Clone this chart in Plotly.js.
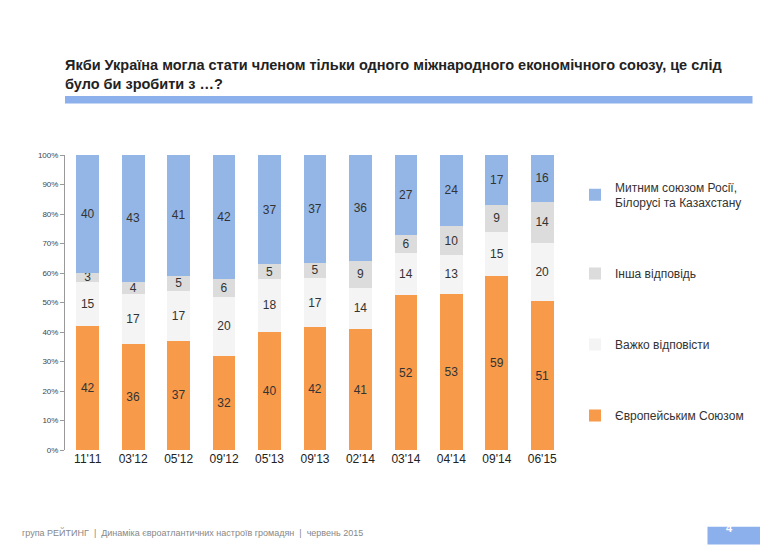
<!DOCTYPE html>
<html><head><meta charset="utf-8">
<script src="https://cdn.plot.ly/plotly-3.0.1.min.js"></script>
<style>body{margin:0;background:#fff}#chart{width:769px;height:545px}</style>
</head><body><div id="chart"></div>
<script>
// підписи хвиль опитування
const waves = ["11'11","03'12","05'12","09'12","05'13","09'13","02'14","03'14","04'14","09'14","06'15"];
const euValues = [42,36,37,32,40,42,41,52,53,59,51];
const hardValues = [15,17,17,20,18,17,14,14,13,15,20];
const otherValues = [3,4,5,6,5,5,9,6,10,9,14];
const customsValues = [40,43,41,42,37,37,36,27,24,17,16];

const seriesNames = ['Європейським Союзом','Важко відповісти','Інша відповідь','Митним союзом Росії,<br>Білорусі та Казахстану'];
const seriesColors = ['#F79A4A','#F4F4F4','#DCDCDC','#93B6E6'];
const seriesData = [euValues, hardValues, otherValues, customsValues];

const traces = seriesData.map((vals, i) => ({
  type: 'bar', x: waves, y: vals, name: seriesNames[i],
  legendgroup: 'g' + i, legendrank: 4 - i,
  marker: {color: seriesColors[i]},
  text: vals.map(String), textposition: 'inside', insidetextanchor: 'middle',
  textangle: 0, constraintext: 'none',
  textfont: {family: 'Liberation Sans, Arial', size: 12, color: '#333'},
  hoverinfo: 'none'
}));

const layout = {
  width: 769, height: 545,
  margin: {l: 65, r: 204, t: 155, b: 95},
  barmode: 'stack', barnorm: 'percent', bargap: 0.5,
  paper_bgcolor: '#fff', plot_bgcolor: '#fff',
  font: {family: 'Liberation Sans, Arial', color: '#404040'},
  xaxis: {tickfont: {size: 12, color: '#222'}, showline: false, ticks: '', tickangle: 0},
  yaxis: {range: [0, 100], dtick: 10, ticksuffix: '%', tickfont: {size: 8, color: '#444'},
          showgrid: false, showline: true, linecolor: '#999', ticks: 'outside', ticklen: 4, tickcolor: '#999', zeroline: false},
  showlegend: true,
  legend: {x: 1.02, y: 0.94, yanchor: 'top', traceorder: 'grouped', tracegroupgap: 52,
           font: {size: 12, color: '#333'}},
  shapes: [
    {type: 'rect', xref: 'paper', yref: 'paper', x0: 0.0, x1: 1.375, y0: 1.2, y1: 1.175, fillcolor: '#8BB0EC', line: {width: 0}},
    {type: 'rect', xref: 'paper', yref: 'paper', x0: 1.285, x1: 1.39, y0: -0.26, y1: -0.32, fillcolor: '#8BB0EC', line: {width: 0}}
  ],
  annotations: [
    {xref: 'paper', yref: 'paper', x: -0.005, y: 1.34, xanchor: 'left', yanchor: 'top', align: 'left', showarrow: false,
     text: '<b>Якби Україна могла стати членом тільки одного міжнародного економічного союзу, це слід<br>було би зробити з …?</b>',
     font: {size: 14.5, color: '#222'}},
    {xref: 'paper', yref: 'paper', x: -0.09, y: -0.255, xanchor: 'left', yanchor: 'top', showarrow: false,
     text: 'група РЕЙТИНГ  |  Динаміка євроатлантичних настроїв громадян  |  червень 2015', font: {size: 9, color: '#888'}},
    {xref: 'paper', yref: 'paper', x: 1.34, y: -0.29, showarrow: false, text: '<b>4</b>', font: {size: 11, color: '#fff'}}
  ]
};
Plotly.newPlot('chart', traces, layout, {staticPlot: true});
</script></body></html>
